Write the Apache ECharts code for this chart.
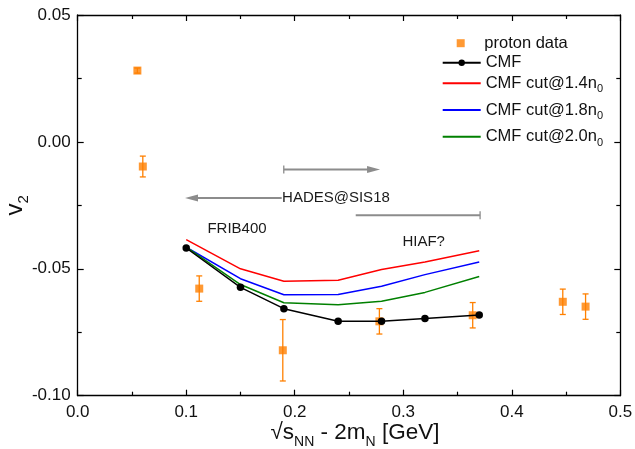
<head>
    <meta charset="UTF-8">
    <title>v2 vs energy</title>
    <script src="https://cdn.jsdelivr.net/npm/echarts@6/dist/echarts.min.js"></script>
</head>
<body style="margin:0">
    <div id="main" style="width: 635px;height:449px;"></div>
    <script type="text/javascript">
        // values
        var cmfX = [0.10, 0.15, 0.19, 0.24, 0.28, 0.32, 0.37];
        var cmf = [-0.0418, -0.0573, -0.0657, -0.0707, -0.0707, -0.0696, -0.0682];
        var cut14 = [-0.0385, -0.0500, -0.0549, -0.0545, -0.0503, -0.0473, -0.0429];
        var cut18 = [-0.0415, -0.0539, -0.0602, -0.0601, -0.0569, -0.0523, -0.0473];
        var cut20 = [-0.0415, -0.0562, -0.0634, -0.0642, -0.0628, -0.0593, -0.0530];

        var protonX = [0.055, 0.060, 0.112, 0.189, 0.278, 0.364, 0.447, 0.468];
        var protonY = [0.0281, -0.0097, -0.0578, -0.0821, -0.0707, -0.0683, -0.0630, -0.0649];
        var protonErr = [0.0010, 0.0041, 0.0050, 0.0121, 0.0050, 0.0050, 0.0050, 0.0050];

        // arrows / ranges: [from x, to x, y, arrow head at "to", bar at "from", bar at "to"]
        var rangeMarks = [
            [0.1899, 0.2786, -0.0109, 1, 1, 0],
            [0.1880, 0.0989, -0.0221, 1, 0, 0],
            [0.2562, 0.3708, -0.0289, 0, 0, 1]
        ];
        var noteText = ['HADES@SIS18', 'FRIB400', 'HIAF?'];
        var noteX = [0.1883, 0.1195, 0.2992];
        var noteY = [-0.0220, -0.0342, -0.0392];

        var xTickFmt = function (v) { return v.toFixed(1); };
        var yTickFmt = function (v) { return v.toFixed(2); };

        function pairs(xs, ys) {
            return xs.map(function (x, i) { return [x, ys[i]]; });
        }

        var font = 'Liberation Sans, Arial, sans-serif';
        var orange = '#ff8000';
        var gray = '#8c8c8c';

        var myChart = echarts.init(document.getElementById('main'));

        var axisCommon = {
            type: 'value',
            axisLine: { show: true, onZero: false, lineStyle: { color: '#000', width: 1.3 } },
            axisTick: { show: true, inside: true, length: 6, lineStyle: { color: '#000', width: 1.2 } },
            minorTick: { show: true, splitNumber: 2, length: 4, lineStyle: { color: '#000', width: 1.2 } },
            splitLine: { show: false },
            minorSplitLine: { show: false }
        };

        var xNameRich = {
            m: { fontSize: 22.5, lineHeight: 34, fontFamily: font, color: '#111' },
            s: { fontSize: 14, lineHeight: 10, verticalAlign: 'bottom', fontFamily: font, color: '#111' }
        };
        var yNameRich = {
            m: { fontSize: 24, lineHeight: 32, fontFamily: font, color: '#111' },
            s: { fontSize: 15, lineHeight: 10, verticalAlign: 'bottom', fontFamily: font, color: '#111' }
        };
        var legRich = {
            m: { fontSize: 16.5, lineHeight: 23, fontFamily: font, color: '#111' },
            s: { fontSize: 11, lineHeight: 9, verticalAlign: 'bottom', fontFamily: font, color: '#111' }
        };

        function legendAt(name, top, square) {
            return {
                data: [square ? name : { name: name, itemStyle: { opacity: name === 'CMF' ? 1 : 0 } }],
                left: square ? 456.7 : 441.7,
                top: top,
                padding: 0,
                orient: 'vertical',
                itemWidth: square ? 8 : 38,
                itemHeight: 8,
                itemGap: 0,
                itemTextGap: 5,
                selectedMode: false,
                formatter: function (n) {
                    var m = n.match(/^(.*)n0$/);
                    return m ? '{m|' + m[1] + 'n}{s|0}' : n;
                },
                textStyle: {
                    fontSize: 16.5, lineHeight: 16, fontFamily: font, color: '#111', rich: legRich,
                    padding: square ? [0, 0, 0, 14.6] : 0
                }
            };
        }

        myChart.setOption({
            animation: false,
            grid: { left: 77.7, right: 14.7, top: 15, bottom: 53.3, outerBoundsMode: 'none' },
            legend: [
                legendAt('proton data', 34.7, true),
                legendAt('CMF', 54.3),
                legendAt('CMF cut@1.4n0', 71.8),
                legendAt('CMF cut@1.8n0', 98.5),
                legendAt('CMF cut@2.0n0', 125.2)
            ],
            xAxis: [
                Object.assign({}, axisCommon, {
                    position: 'bottom', min: 0, max: 0.5, interval: 0.1,
                    axisLabel: { formatter: xTickFmt, fontSize: 17, fontFamily: font, color: '#111', margin: 8 },
                    name: '{m|√s}{s|NN}{m| - 2m}{s|N}{m| [GeV]}',
                    nameLocation: 'middle', nameGap: 19.8, nameMoveOverlap: false,
                    nameTextStyle: { rich: xNameRich, padding: [0, 0, 0, 12] }
                }),
                Object.assign({}, axisCommon, {
                    position: 'top', min: 0, max: 0.5, interval: 0.1,
                    axisLabel: { show: false }
                })
            ],
            yAxis: [
                Object.assign({}, axisCommon, {
                    position: 'left', min: -0.10, max: 0.05, interval: 0.05,
                    axisLabel: { formatter: yTickFmt, fontSize: 17, fontFamily: font, color: '#111', margin: 7 },
                    name: '{m|v}{s|2}',
                    nameLocation: 'middle', nameGap: 46.7, nameMoveOverlap: false,
                    nameTextStyle: { rich: yNameRich }
                }),
                Object.assign({}, axisCommon, {
                    position: 'right', min: -0.10, max: 0.05, interval: 0.05,
                    axisLabel: { show: false }
                })
            ],
            series: [
                {
                    name: 'proton errors',
                    type: 'custom',
                    data: protonX.map(function (x, i) { return [x, protonY[i], protonErr[i]]; }),
                    encode: { x: 0, y: 1 },
                    z: 2,
                    renderItem: function (params, api) {
                        var x = api.value(0), y = api.value(1), e = api.value(2);
                        var hi = api.coord([x, y + e]);
                        var lo = api.coord([x, y - e]);
                        var st = { stroke: orange, lineWidth: 1.3 };
                        return {
                            type: 'group',
                            children: [
                                { type: 'line', shape: { x1: hi[0], y1: hi[1], x2: lo[0], y2: lo[1] }, style: st },
                                { type: 'line', shape: { x1: hi[0] - 3, y1: hi[1], x2: hi[0] + 3, y2: hi[1] }, style: st },
                                { type: 'line', shape: { x1: lo[0] - 3, y1: lo[1], x2: lo[0] + 3, y2: lo[1] }, style: st }
                            ]
                        };
                    }
                },
                {
                    name: 'proton data',
                    type: 'scatter',
                    data: pairs(protonX, protonY),
                    symbol: 'rect',
                    symbolSize: 8,
                    itemStyle: { color: orange },
                    z: 3
                },
                {
                    name: 'CMF cut@1.4n0', type: 'line', data: pairs(cmfX, cut14),
                    symbol: 'none', lineStyle: { color: '#ff0000', width: 1.5 }, itemStyle: { color: '#ff0000' }, z: 4
                },
                {
                    name: 'CMF cut@1.8n0', type: 'line', data: pairs(cmfX, cut18),
                    symbol: 'none', lineStyle: { color: '#0000ff', width: 1.5 }, itemStyle: { color: '#0000ff' }, z: 4
                },
                {
                    name: 'CMF cut@2.0n0', type: 'line', data: pairs(cmfX, cut20),
                    symbol: 'none', lineStyle: { color: '#008000', width: 1.5 }, itemStyle: { color: '#008000' }, z: 4
                },
                {
                    name: 'CMF', type: 'line', data: pairs(cmfX, cmf),
                    symbol: 'circle', symbolSize: 7.5,
                    lineStyle: { color: '#000', width: 1.5 }, itemStyle: { color: '#000' }, z: 5
                },
                {
                    name: 'ranges',
                    type: 'custom',
                    data: rangeMarks,
                    encode: { x: [0, 1], y: 2 },
                    z: 6,
                    silent: true,
                    renderItem: function (params, api) {
                        var a = api.coord([api.value(0), api.value(2)]);
                        var b = api.coord([api.value(1), api.value(2)]);
                        var dir = b[0] > a[0] ? 1 : -1;
                        var st = { stroke: gray, lineWidth: 2 };
                        var kids = [];
                        var endX = api.value(3) ? b[0] - dir * 11 : b[0];
                        kids.push({ type: 'line', shape: { x1: a[0], y1: a[1], x2: endX, y2: b[1] }, style: st });
                        if (api.value(3)) {
                            kids.push({ type: 'polygon', shape: { points: [[b[0], b[1]], [b[0] - dir * 13, b[1] - 3.5], [b[0] - dir * 13, b[1] + 3.5]] }, style: { fill: gray } });
                        }
                        if (api.value(4)) {
                            kids.push({ type: 'line', shape: { x1: a[0], y1: a[1] - 4, x2: a[0], y2: a[1] + 4 }, style: { stroke: gray, lineWidth: 1.3 } });
                        }
                        if (api.value(5)) {
                            kids.push({ type: 'line', shape: { x1: b[0], y1: b[1] - 4, x2: b[0], y2: b[1] + 4 }, style: { stroke: gray, lineWidth: 1.3 } });
                        }
                        return { type: 'group', children: kids };
                    }
                },
                {
                    name: 'notes',
                    type: 'custom',
                    data: pairs(noteX, noteY),
                    encode: { x: 0, y: 1 },
                    z: 7,
                    silent: true,
                    renderItem: function (params, api) {
                        var p = api.coord([api.value(0), api.value(1)]);
                        return {
                            type: 'text',
                            x: p[0], y: p[1],
                            style: {
                                text: noteText[params.dataIndex],
                                fill: '#1a1a1a',
                                font: '15px ' + font,
                                align: 'left',
                                verticalAlign: 'middle'
                            }
                        };
                    }
                }
            ]
        });
    </script>
</body>
